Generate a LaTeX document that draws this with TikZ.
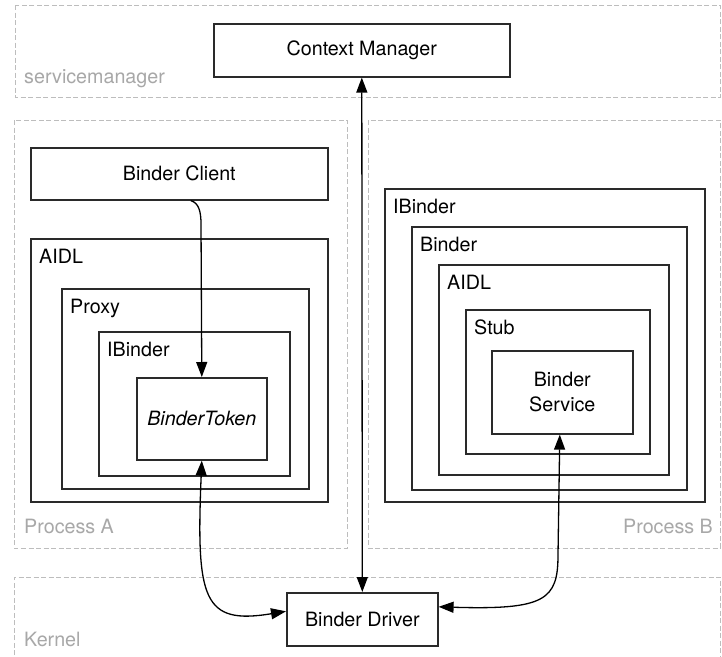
\documentclass[tikz,border=0pt]{standalone}
\usepackage{fontspec}
\setmainfont{TeX Gyre Heros}
\usetikzlibrary{arrows.meta}
\definecolor{boxline}{HTML}{2A2A2A}
\definecolor{dashline}{HTML}{BDBDBD}
\definecolor{lblgray}{HTML}{A8A8A8}
\begin{document}
\begin{tikzpicture}[x=1pt,y=-1pt,
  txt/.style={font=\fontsize{19.7}{25}\selectfont},
  region/.style={draw=dashline, line width=1pt, dash pattern=on 5pt off 2.5pt},
  box/.style={draw=boxline, line width=1.6pt, rectangle, inner sep=0pt, anchor=north west, txt, align=center},
  lbl/.style={txt, inner sep=0pt, anchor=base west, text=black},
  glbl/.style={txt, inner sep=0pt, text=lblgray},
  tip/.style={Triangle[length=15pt,width=11pt]},
  arr/.style={draw=black, line width=1.3pt, -{Triangle[length=15pt,width=11pt]}},
  arr2/.style={draw=black, line width=1.3pt, {Triangle[length=15pt,width=11pt]}-{Triangle[length=15pt,width=11pt]}}
]
\useasboundingbox (0,0) rectangle (722,656);
\fill[white] (0,0) rectangle (722,656);

% regions
\draw[region] (15,5) rectangle (720,97);
\draw[region] (14,120) rectangle (347,548);
\draw[region] (368,120) rectangle (720,548);
\draw[region] (14,670) -- (14,577) -- (720,577) -- (720,670);

\node[glbl, anchor=base west] (lsm) at (24,83) {servicemanager};
\node[glbl, anchor=base west] (lpa) at (24,533) {Process A};
\node[glbl, anchor=base east] (lpb) at (713,533) {Process B};
\node[glbl, anchor=base west] (lk) at (24,646) {Kernel};

% servicemanager
\node[box, minimum width=296pt, minimum height=53pt] (cm) at (213,23) {Context Manager};

% Process A
\node[box, minimum width=297pt, minimum height=52pt] (bc) at (30,147) {Binder Client};
\node[box, minimum width=297pt, minimum height=263pt] (aidlA) at (30,238) {};
\node[box, minimum width=247pt, minimum height=200pt] (proxy) at (61,288) {};
\node[box, minimum width=191pt, minimum height=144pt] (ibA) at (98,331) {};
\node[box, minimum width=130pt, minimum height=82pt] (bt) at (136,377) {\itshape BinderToken};
\node[lbl] (laidlA) at ([xshift=9pt,yshift=-25.5pt]aidlA.north west) {AIDL};
\node[lbl] (lproxy) at ([xshift=9pt,yshift=-25.5pt]proxy.north west) {Proxy};
\node[lbl] (libA) at ([xshift=9pt,yshift=-25.5pt]ibA.north west) {IBinder};

% Process B
\node[box, minimum width=320pt, minimum height=313pt] (ibB) at (384,188) {};
\node[box, minimum width=275pt, minimum height=263pt] (binder) at (411,226) {};
\node[box, minimum width=230pt, minimum height=210pt] (aidlB) at (438,264) {};
\node[box, minimum width=184pt, minimum height=144pt] (stub) at (465,309) {};
\node[box, minimum width=141pt, minimum height=83pt] (bs) at (491,350) {Binder\\Service};
\node[lbl] (libB) at ([xshift=9pt,yshift=-25.5pt]ibB.north west) {IBinder};
\node[lbl] (lbinder) at ([xshift=9pt,yshift=-25.5pt]binder.north west) {Binder};
\node[lbl] (laidlB) at ([xshift=9pt,yshift=-25.5pt]aidlB.north west) {AIDL};
\node[lbl] (lstub) at ([xshift=9pt,yshift=-25.5pt]stub.north west) {Stub};

% Kernel
\node[box, minimum width=151pt, minimum height=53pt] (bd) at (286,592) {Binder Driver};

% connectors
\draw[arr2] (cm.south) -- (bd.north);

\coordinate (c1) at (201,224);
\draw[arr] ([xshift=11.5pt]bc.south) .. controls (199,203) and (201,212) .. (c1) -- (bt.north);

\draw[arr2] (bt.south) .. controls (196,600) and (203,625) .. ([yshift=8pt]bd.west);

\coordinate (c2) at (558,555);
\draw[arr2] ([xshift=-2.5pt]bs.south) -- (c2) .. controls (558,600) and (545,610) .. ([yshift=12.5pt]bd.east);
\end{tikzpicture}
\end{document}
